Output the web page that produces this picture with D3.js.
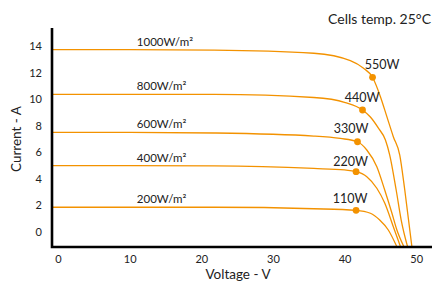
<!DOCTYPE html>
<html>
<head>
<meta charset="utf-8">
<script src="https://cdn.jsdelivr.net/npm/d3@7"></script>
<style>
  body { margin: 0; background: #fff; }
  text { font-family: Lato, "Open Sans", sans-serif; fill: #222; }
</style>
</head>
<body>
<svg id="chart" width="434" height="282"></svg>
<script>
// irradiance levels and their I-V curves, [voltage, current]
const irradiance = ["1000W/m²", "800W/m²", "600W/m²", "400W/m²", "200W/m²"]

const curve1000 = [[-0.8,13.72],[10,13.72],[21.8,13.69],[35.7,13.45],[40.8,12.89],[42.6,12.34],[43.9,11.64],
    [45.0,10.18],[45.9,8.68],[46.8,7.17],[47.7,5.79],[48.4,3.16],[49.4,-1.13]]
const curve800 = [[-0.8,10.36],[10,10.36],[21.8,10.35],[35.7,10.12],[40.1,9.74],[42.5,9.18],[43.6,8.65],
    [44.7,7.83],[45.7,6.92],[46.3,5.79],[47.2,3.16],[47.9,0.9],[48.8,-1.13]]
const curve600 = [[-0.8,7.50],[10,7.50],[21.8,7.45],[35.7,7.22],[39.4,7.04],[41.8,6.79],[43.1,6.17],
    [44.5,4.91],[45.6,3.16],[46.6,1.43],[47.3,0.15],[48.3,-1.13]]
const curve400 = [[-0.8,4.99],[10,4.99],[21.8,4.97],[35.7,4.78],[40.0,4.67],[41.6,4.54],[43.1,4.16],
    [44.5,3.29],[45.6,2.18],[46.8,0.40],[47.8,-1.11]]
const curve200 = [[-0.8,1.86],[10,1.86],[21.8,1.86],[35.7,1.75],[41.6,1.63],[43.6,1.41],
    [44.9,0.90],[46.1,0.15],[47.3,-1.11]]

// max power points
const mppLabels = ["550W", "440W", "330W", "220W", "110W"]
const mppPoints = [[43.9,11.64],[42.5,9.18],[41.8,6.79],[41.6,4.54],[41.6,1.63]]

const xTicks = [0, 10, 20, 30, 40, 50]
const yTicks = [0, 2, 4, 6, 8, 10, 12, 14]

const curves = [curve1000, curve800, curve600, curve400, curve200]

let svg = d3.select("#chart"),
    orange = "#f39200"

let x = d3.scaleLinear().domain([-0.84, 52.2]).range([52, 432]),
    y = d3.scaleLinear().domain([-1.13, 15.35]).range([247, 28])

svg.append("clipPath").attr("id", "plot")
    .append("rect")
    .attr("x", 52).attr("y", 20)
    .attr("width", 380).attr("height", 227)

let line = d3.line()
    .curve(d3.curveMonotoneX)
    .x(d => x(d[0]))
    .y(d => y(d[1]))

svg.append("g")
    .attr("clip-path", "url(#plot)")
    .selectAll("path")
    .data(curves)
    .enter().append("path")
    .attr("d", line)
    .style("fill", "none")
    .style("stroke", orange)
    .style("stroke-width", 1.3)

// irradiance labels sit just over the flat part of each curve
svg.selectAll(".irr")
    .data(irradiance)
    .enter().append("text")
    .attr("class", "irr")
    .attr("x", x(11))
    .attr("y", (d, i) => y(curves[i][0][1]) - 4)
    .style("font-size", "11.5px")
    .text(d => d)

svg.selectAll(".mpp")
    .data(mppPoints)
    .enter().append("circle")
    .attr("class", "mpp")
    .attr("cx", d => x(d[0]))
    .attr("cy", d => y(d[1]))
    .attr("r", 3.4)
    .style("fill", orange)

let labelShift = [[27, -8], [17, -8], [11, -9], [12, -5.5], [11.5, -7]]

svg.selectAll(".mppLabel")
    .data(mppLabels)
    .enter().append("text")
    .attr("class", "mppLabel")
    .attr("x", (d, i) => x(mppPoints[i][0]) + labelShift[i][0])
    .attr("y", (d, i) => y(mppPoints[i][1]) + labelShift[i][1])
    .attr("text-anchor", "end")
    .style("font-size", "12.5px")
    .text(d => d)

// axes: thick black lines, no tick marks
svg.append("g")
    .attr("transform", "translate(0,250)")
    .call(d3.axisBottom(x).tickValues(xTicks).tickSize(0).tickPadding(5))
    .call(g => g.select(".domain").remove())
    .selectAll("text")
    .style("font-size", "11px")
    .style("font-family", "Lato, sans-serif")
    .attr("fill", "#222")

svg.append("g")
    .attr("transform", "translate(42,0)")
    .call(d3.axisLeft(y).tickValues(yTicks).tickSize(0).tickPadding(0))
    .call(g => g.select(".domain").remove())
    .selectAll("text")
    .style("font-size", "11px")
    .style("font-family", "Lato, sans-serif")
    .attr("fill", "#222")

svg.append("path")
    .attr("d", "M" + x.range()[0] + "," + y.range()[1] + "V" + y.range()[0] + "H" + x.range()[1])
    .style("fill", "none")
    .style("stroke", "#000")
    .style("stroke-width", 2.6)

svg.append("text")
    .attr("x", 238)
    .attr("y", 279)
    .attr("text-anchor", "middle")
    .style("font-size", "13.5px")
    .text("Voltage - V")

svg.append("text")
    .attr("transform", "translate(21,139) rotate(-90)")
    .attr("text-anchor", "middle")
    .style("font-size", "13.5px")
    .text("Current - A")

svg.append("text")
    .attr("x", 431)
    .attr("y", 24)
    .attr("text-anchor", "end")
    .style("font-size", "14px")
    .text("Cells temp. 25°C")
</script>
</body>
</html>
